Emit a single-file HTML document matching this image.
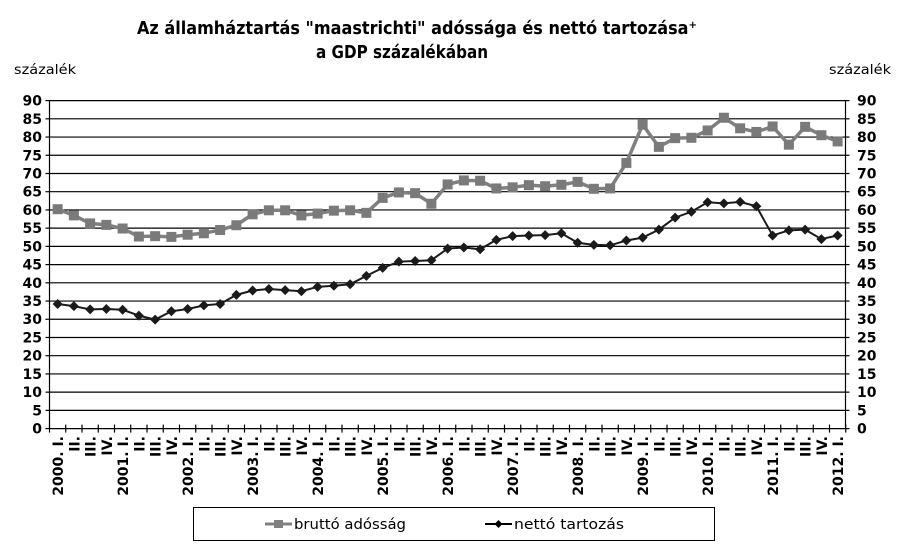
<!DOCTYPE html>
<html><head><meta charset="utf-8"><style>
body{margin:0;background:#fff;}
svg{display:block;font-family:"DejaVu Sans","Liberation Sans",sans-serif;}
.yl text{font-size:14px;font-weight:bold;}
.xl text{font-size:14px;font-weight:bold;}
</style></head><body>
<svg width="900" height="549" viewBox="0 0 900 549">
<rect width="900" height="549" fill="#fff"/>
<text x="137" y="34" font-size="18" font-weight="bold" textLength="560" lengthAdjust="spacingAndGlyphs">Az államháztartás "maastrichti" adóssága és nettó tartozása⁺</text>
<text x="316" y="58" font-size="18" font-weight="bold" textLength="172" lengthAdjust="spacingAndGlyphs">a GDP százalékában</text>
<text x="14" y="74" font-size="13" textLength="62" lengthAdjust="spacingAndGlyphs">százalék</text>
<text x="829" y="74" font-size="13" textLength="62" lengthAdjust="spacingAndGlyphs">százalék</text>
<g id="grid" stroke="#000" stroke-width="1.2"></g>
<g class="yl" text-anchor="end">
<text x="42" y="105.6">90</text><text x="42" y="123.8">85</text><text x="42" y="142.1">80</text><text x="42" y="160.3">75</text><text x="42" y="178.5">70</text><text x="42" y="196.7">65</text><text x="42" y="214.9">60</text><text x="42" y="233.1">55</text><text x="42" y="251.4">50</text><text x="42" y="269.6">45</text><text x="42" y="287.8">40</text><text x="42" y="306">35</text><text x="42" y="324.2">30</text><text x="42" y="342.4">25</text><text x="42" y="360.6">20</text><text x="42" y="378.9">15</text><text x="42" y="397.1">10</text><text x="42" y="415.3">5</text><text x="42" y="433.6">0</text>
</g>
<g class="yl" text-anchor="start">
<text x="857" y="105.6">90</text><text x="857" y="123.8">85</text><text x="857" y="142.1">80</text><text x="857" y="160.3">75</text><text x="857" y="178.5">70</text><text x="857" y="196.7">65</text><text x="857" y="214.9">60</text><text x="857" y="233.1">55</text><text x="857" y="251.4">50</text><text x="857" y="269.6">45</text><text x="857" y="287.8">40</text><text x="857" y="306">35</text><text x="857" y="324.2">30</text><text x="857" y="342.4">25</text><text x="857" y="360.6">20</text><text x="857" y="378.9">15</text><text x="857" y="397.1">10</text><text x="857" y="415.3">5</text><text x="857" y="433.6">0</text>
</g>
<g class="xl" text-anchor="end">
<text transform="translate(63,436) rotate(-90)">2000. I.</text>
<text transform="translate(79.3,436) rotate(-90)">II.</text>
<text transform="translate(95.5,436) rotate(-90)">III.</text>
<text transform="translate(111.8,436) rotate(-90)">IV.</text>
<text transform="translate(128,436) rotate(-90)">2001. I.</text>
<text transform="translate(144.3,436) rotate(-90)">II.</text>
<text transform="translate(160.5,436) rotate(-90)">III.</text>
<text transform="translate(176.8,436) rotate(-90)">IV.</text>
<text transform="translate(193,436) rotate(-90)">2002. I.</text>
<text transform="translate(209.3,436) rotate(-90)">II.</text>
<text transform="translate(225.5,436) rotate(-90)">III.</text>
<text transform="translate(241.8,436) rotate(-90)">IV.</text>
<text transform="translate(258,436) rotate(-90)">2003. I.</text>
<text transform="translate(274.3,436) rotate(-90)">II.</text>
<text transform="translate(290.5,436) rotate(-90)">III.</text>
<text transform="translate(306.8,436) rotate(-90)">IV.</text>
<text transform="translate(323,436) rotate(-90)">2004. I.</text>
<text transform="translate(339.3,436) rotate(-90)">II.</text>
<text transform="translate(355.5,436) rotate(-90)">III.</text>
<text transform="translate(371.8,436) rotate(-90)">IV.</text>
<text transform="translate(388,436) rotate(-90)">2005. I.</text>
<text transform="translate(404.3,436) rotate(-90)">II.</text>
<text transform="translate(420.5,436) rotate(-90)">III.</text>
<text transform="translate(436.8,436) rotate(-90)">IV.</text>
<text transform="translate(453,436) rotate(-90)">2006. I.</text>
<text transform="translate(469.3,436) rotate(-90)">II.</text>
<text transform="translate(485.5,436) rotate(-90)">III.</text>
<text transform="translate(501.8,436) rotate(-90)">IV.</text>
<text transform="translate(518,436) rotate(-90)">2007. I.</text>
<text transform="translate(534.3,436) rotate(-90)">II.</text>
<text transform="translate(550.5,436) rotate(-90)">III.</text>
<text transform="translate(566.8,436) rotate(-90)">IV.</text>
<text transform="translate(583,436) rotate(-90)">2008. I.</text>
<text transform="translate(599.3,436) rotate(-90)">II.</text>
<text transform="translate(615.5,436) rotate(-90)">III.</text>
<text transform="translate(631.8,436) rotate(-90)">IV.</text>
<text transform="translate(648,436) rotate(-90)">2009. I.</text>
<text transform="translate(664.3,436) rotate(-90)">II.</text>
<text transform="translate(680.5,436) rotate(-90)">III.</text>
<text transform="translate(696.8,436) rotate(-90)">IV.</text>
<text transform="translate(713,436) rotate(-90)">2010. I.</text>
<text transform="translate(729.3,436) rotate(-90)">II.</text>
<text transform="translate(745.5,436) rotate(-90)">III.</text>
<text transform="translate(761.8,436) rotate(-90)">IV.</text>
<text transform="translate(778,436) rotate(-90)">2011. I.</text>
<text transform="translate(794.3,436) rotate(-90)">II.</text>
<text transform="translate(810.5,436) rotate(-90)">III.</text>
<text transform="translate(826.8,436) rotate(-90)">IV.</text>
<text transform="translate(843,436) rotate(-90)">2012. I.</text>
</g>
<g id="series"></g>
<rect x="193.5" y="507.5" width="521" height="33" fill="none" stroke="#000" stroke-width="1"/>
<line x1="265" y1="524" x2="292" y2="524" stroke="#808080" stroke-width="3"/>
<rect x="274" y="520" width="9" height="8" fill="#808080"/>
<text x="294" y="529" font-size="14" textLength="112" lengthAdjust="spacingAndGlyphs">bruttó adósság</text>
<line x1="485" y1="524" x2="512" y2="524" stroke="#000" stroke-width="2"/>
<path d="M498.5 520 L502.5 524 L498.5 528 L494.5 524Z" fill="#000"/>
<text x="514" y="529" font-size="14" textLength="110" lengthAdjust="spacingAndGlyphs">nettó tartozás</text>
</svg>
<script>
var NS="http://www.w3.org/2000/svg";
function el(t,a,p){var e=document.createElementNS(NS,t);for(var k in a)e.setAttribute(k,a[k]);document.getElementById(p).appendChild(e);return e;}
var L=49.5,R=845.5,step=16.25,Y0=428.6,U=(428.6-100.6)/90;
function Y(v){return Y0-v*U;}
function X(i){return L+step*(i+0.5);}
for(var v=5;v<=90;v+=5){el('line',{x1:L,x2:R,y1:Y(v),y2:Y(v)},'grid');}
el('line',{x1:L,x2:L,y1:Y(90),y2:Y0},'grid');
el('line',{x1:R,x2:R,y1:Y(90),y2:Y0},'grid');
el('line',{x1:L,x2:R,y1:Y0,y2:Y0},'grid');
for(var v=0;v<=90;v+=5){el('line',{x1:L-4,x2:L,y1:Y(v),y2:Y(v)},'grid');el('line',{x1:R,x2:R+4,y1:Y(v),y2:Y(v)},'grid');}
for(var i=0;i<=49;i++){el('line',{x1:L+step*i,x2:L+step*i,y1:Y0-4,y2:Y0+4},'grid');}
var gr=[60.2,58.5,56.3,55.9,54.9,52.7,52.8,52.6,53.2,53.6,54.5,55.8,58.8,59.9,59.9,58.5,59.0,59.8,59.9,59.2,63.3,64.8,64.6,61.7,67.0,68.1,68.0,65.9,66.2,66.8,66.5,66.9,67.7,65.8,65.9,72.9,83.4,77.3,79.7,79.8,81.8,85.3,82.4,81.4,82.9,77.9,82.8,80.5,78.8];
var nt=[34.2,33.6,32.7,32.8,32.6,31.0,29.9,32.2,32.8,33.8,34.2,36.7,37.9,38.3,38.0,37.7,38.9,39.2,39.6,41.9,44.1,45.8,46.0,46.2,49.4,49.7,49.2,51.8,52.8,53.0,53.1,53.6,51.0,50.4,50.3,51.6,52.4,54.6,57.9,59.5,62.1,61.8,62.2,61.0,53.0,54.4,54.6,52.0,53.0];
var p1=gr.map(function(v,i){return X(i)+','+Y(v);}).join(' ');
var p2=nt.map(function(v,i){return X(i)+','+Y(v);}).join(' ');
el('polyline',{points:p1,fill:'none',stroke:'#808080','stroke-width':3.5},'series');
gr.forEach(function(v,i){el('rect',{x:X(i)-5,y:Y(v)-5,width:10,height:10,fill:'#7a7a7a'},'series');});
el('polyline',{points:p2,fill:'none',stroke:'#1a1a1a','stroke-width':2},'series');
nt.forEach(function(v,i){var x=X(i),y=Y(v);el('path',{d:'M'+x+' '+(y-5)+'L'+(x+5)+' '+y+'L'+x+' '+(y+5)+'L'+(x-5)+' '+y+'Z',fill:'#1a1a1a'},'series');});
</script>
</body></html>
